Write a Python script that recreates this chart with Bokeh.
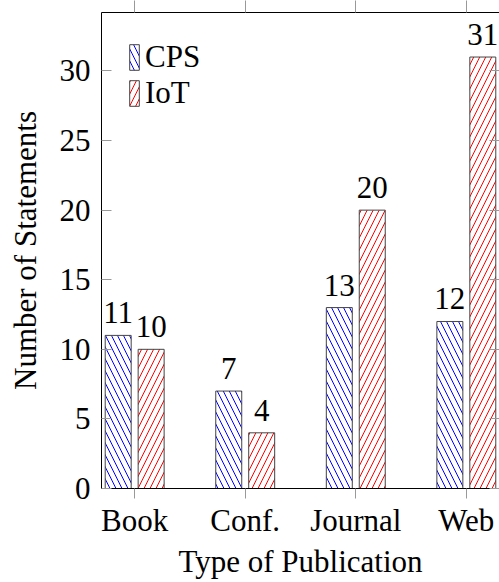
from bokeh.plotting import figure
from bokeh.models import ColumnDataSource, Range1d, FixedTicker, LinearAxis, LabelSet
from bokeh.transform import dodge
from bokeh.embed import file_html
from bokeh.resources import INLINE

# ---- data ----
categories = ["Book", "Conf.", "Journal", "Web"]
cps_values = [11, 7, 13, 12]
iot_values = [10, 4, 20, 31]
series_names = ["CPS", "IoT"]
y_ticks = [0, 5, 10, 15, 20, 25, 30]
x_title = "Type of Publication"
y_title = "Number of Statements"

FONT = "Liberation Serif"
FS = "31px"
positions = list(range(len(categories)))

source = ColumnDataSource(dict(
    pos=positions,
    cps=cps_values,
    iot=iot_values,
    cps_label=[str(v) for v in cps_values],
    iot_label=[str(v) for v in iot_values],
))

p = figure(width=499, height=582, output_backend="svg", toolbar_location=None,
           x_range=Range1d(-0.3, 3.3), y_range=Range1d(0, 34.2),
           min_border_left=101, min_border_right=0, min_border_top=12,
           min_border_bottom=94)
p.xgrid.visible = False
p.ygrid.visible = False
p.outline_line_color = None
p.background_fill_color = "white"
p.border_fill_color = "white"

off = 0.149
bw = 0.235
HS = 12
p.vbar(x=dodge("pos", -off, range=p.x_range), top="cps", width=bw, source=source,
       fill_color="white", line_color="#444444", line_width=1,
       hatch_pattern="left_diagonal_line", hatch_color="blue",
       hatch_scale=HS, hatch_weight=1, legend_label=series_names[0])
p.vbar(x=dodge("pos", off, range=p.x_range), top="iot", width=bw, source=source,
       fill_color="white", line_color="#444444", line_width=1,
       hatch_pattern="right_diagonal_line", hatch_color="red",
       hatch_scale=HS, hatch_weight=1, legend_label=series_names[1])

for col, lab, d in (("cps", "cps_label", -off), ("iot", "iot_label", off)):
    labels = LabelSet(x=dodge("pos", d, range=p.x_range), y=col, text=lab, source=source,
                      text_align="center", text_baseline="alphabetic", y_offset=12,
                      text_font=FONT, text_font_size=FS, text_color="black")
    p.add_layout(labels)

tick_color = "#999999"

# bottom x axis
xa = p.xaxis[0]
xa.ticker = FixedTicker(ticks=positions)
xa.major_label_overrides = {i: c for i, c in zip(positions, categories)}
xa.minor_tick_line_color = None
xa.major_tick_in = 0
xa.major_tick_out = 10
xa.major_tick_line_color = tick_color
xa.axis_line_color = "black"
xa.major_label_standoff = 4
xa.major_label_text_font = FONT
xa.major_label_text_font_size = FS
xa.major_label_text_color = "black"
xa.axis_label = x_title
xa.axis_label_text_font = FONT
xa.axis_label_text_font_size = FS
xa.axis_label_text_font_style = "normal"
xa.axis_label_text_color = "black"
xa.axis_label_standoff = 3

# left y axis
ya = p.yaxis[0]
ya.ticker = FixedTicker(ticks=y_ticks)
ya.minor_tick_line_color = None
ya.major_tick_in = 10
ya.major_tick_out = 0
ya.major_tick_line_color = tick_color
ya.axis_line_color = "black"
ya.major_label_standoff = 11
ya.major_label_text_font = FONT
ya.major_label_text_font_size = FS
ya.major_label_text_color = "black"
ya.axis_label = y_title
ya.axis_label_text_font = FONT
ya.axis_label_text_font_size = FS
ya.axis_label_text_font_style = "normal"
ya.axis_label_text_color = "black"
ya.axis_label_standoff = 14

# top axis (ticks only, no labels drawn)
ta = LinearAxis(ticker=FixedTicker(ticks=positions), major_tick_in=0, major_tick_out=12,
                major_tick_line_color=tick_color, minor_tick_line_color=None,
                major_label_text_color=None, major_label_text_font_size="1px",
                major_label_standoff=0, axis_line_color="black")
p.add_layout(ta, "above")

# right axis (ticks only, line falls at the window edge)
ra = LinearAxis(ticker=FixedTicker(ticks=y_ticks), major_tick_in=10, major_tick_out=0,
                major_tick_line_color=tick_color, minor_tick_line_color=None,
                major_label_text_color=None, major_label_text_font_size="1px",
                major_label_standoff=0, axis_line_color=None)
p.add_layout(ra, "right")

lg = p.legend[0]
lg.location = "top_left"
lg.margin = 17
lg.padding = 10
lg.border_line_alpha = 0
lg.background_fill_alpha = 0
lg.glyph_width = 12
lg.glyph_height = 32
lg.label_height = 32
lg.spacing = 0
lg.label_standoff = 5
lg.label_text_font = FONT
lg.label_text_font_size = FS
lg.label_text_color = "black"

open("out.html", "w").write(file_html(p, INLINE))
